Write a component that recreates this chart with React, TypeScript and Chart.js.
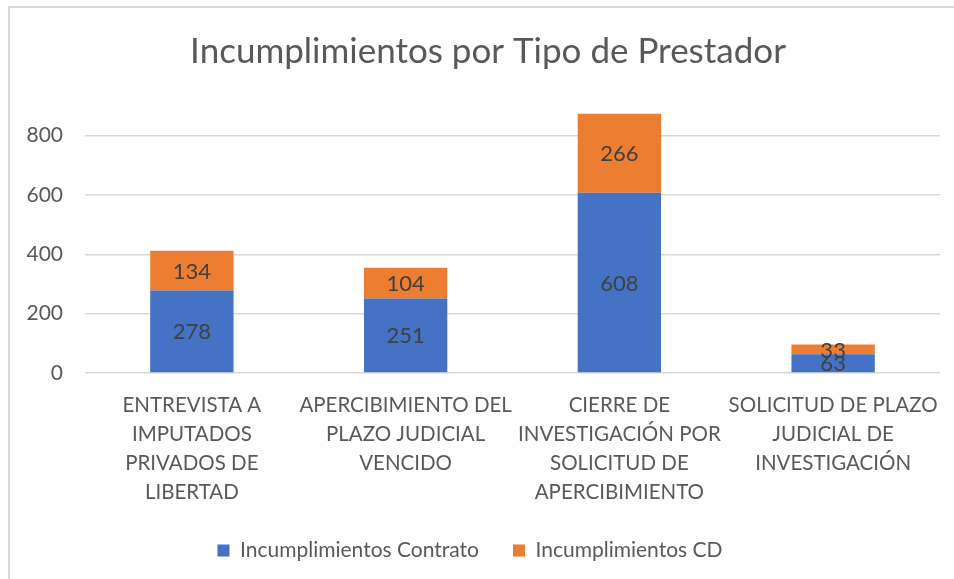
import React, { useEffect, useRef } from "react";
import { Chart, registerables } from "chart.js";

Chart.register(...registerables);

const categories: string[][] = [
  ["ENTREVISTA A", "IMPUTADOS", "PRIVADOS DE", "LIBERTAD"],
  ["APERCIBIMIENTO DEL", "PLAZO JUDICIAL", "VENCIDO"],
  ["CIERRE DE", "INVESTIGACIÓN POR", "SOLICITUD DE", "APERCIBIMIENTO"],
  ["SOLICITUD DE PLAZO", "JUDICIAL DE", "INVESTIGACIÓN"],
];
const contrato: number[] = [278, 251, 608, 63];
const cd: number[] = [134, 104, 266, 33];
const yTicks: number[] = [0, 200, 400, 600, 800];
const titleText = "Incumplimientos por Tipo de Prestador";

const FONT = "Lato, 'Open Sans', sans-serif";
const TITLE_SIZE = 35;

const labelPlugin = {
  id: "segLabels",
  afterDatasetsDraw(chart: any) {
    const ctx = chart.ctx;
    ctx.save();
    ctx.font = `22px ${FONT}`;
    ctx.fillStyle = "#404040";
    ctx.textAlign = "center";
    ctx.textBaseline = "middle";
    chart.data.datasets.forEach((ds: any, di: number) => {
      const meta = chart.getDatasetMeta(di);
      meta.data.forEach((el: any, i: number) => {
        const y = (el.y + el.base) / 2;
        ctx.fillText(String(ds.data[i]), el.x, y + 1);
      });
    });
    ctx.restore();
  },
};

const titlePlugin = {
  id: "customTitle",
  afterDraw(chart: any) {
    const tb = chart.titleBlock;
    if (!tb) return;
    const ctx = chart.ctx;
    ctx.save();
    ctx.font = `${TITLE_SIZE}px ${FONT}`;
    ctx.fillStyle = "#595959";
    ctx.textAlign = "center";
    ctx.textBaseline = "middle";
    const pad = tb.options.padding;
    const y = tb.top + pad.top + (TITLE_SIZE * 1.2) / 2;
    ctx.fillText(titleText, 488, y);
    ctx.restore();
  },
};

export default function App() {
  const ref = useRef<HTMLCanvasElement | null>(null);
  useEffect(() => {
    if (!ref.current) return;
    const chart = new Chart(ref.current, {
      type: "bar",
      data: {
        labels: categories,
        datasets: [
          {
            label: "Incumplimientos Contrato",
            data: contrato,
            backgroundColor: "#4472C4",
            categoryPercentage: 1,
            barPercentage: 0.39,
          },
          {
            label: "Incumplimientos CD",
            data: cd,
            backgroundColor: "#ED7D31",
            categoryPercentage: 1,
            barPercentage: 0.39,
          },
        ],
      },
      options: {
        animation: false,
        responsive: false,
        maintainAspectRatio: false,
        layout: { padding: { left: 0, right: 14, top: 0, bottom: 8 } },
        plugins: {
          title: {
            display: true,
            text: titleText,
            color: "rgba(0,0,0,0)",
            font: { family: FONT, size: TITLE_SIZE, weight: "normal" },
            padding: { top: 31, bottom: 33 },
          },
          legend: {
            position: "bottom",
            labels: {
              color: "#595959",
              font: { family: FONT, size: 21 },
              boxWidth: 12,
              boxHeight: 12,
              padding: 34,
            },
          },
          tooltip: { enabled: false },
        },
        scales: {
          x: {
            stacked: true,
            grid: { display: false },
            border: { display: false },
            ticks: {
              color: "#595959",
              font: { family: FONT, size: 20.5, lineHeight: 1.42 },
              maxRotation: 0,
              autoSkip: false,
              padding: 10,
            },
            afterFit: (axis: any) => {
              axis.height = 133;
            },
          },
          y: {
            stacked: true,
            min: 0,
            max: 900,
            afterBuildTicks: (axis: any) => {
              axis.ticks = yTicks.map((v) => ({ value: v }));
            },
            grid: { color: "#d9d9d9", lineWidth: 1.5, drawTicks: false },
            border: { display: false },
            ticks: {
              color: "#595959",
              font: { family: FONT, size: 21 },
              padding: 22,
            },
            afterFit: (axis: any) => {
              axis.width = 85;
            },
          },
        },
      },
      plugins: [labelPlugin, titlePlugin],
    });
    return () => chart.destroy();
  }, []);
  return (
    <div style={{ position: "absolute", left: 0, top: 0, width: 954, height: 579, background: "#fff" }}>
      <canvas ref={ref} width={954} height={579} style={{ display: "block" }} />
      <div
        style={{
          position: "absolute",
          left: 8,
          top: 6,
          width: 946,
          height: 573,
          borderLeft: "2px solid #d9d9d9",
          borderTop: "2px solid #d9d9d9",
          pointerEvents: "none",
        }}
      />
    </div>
  );
}
